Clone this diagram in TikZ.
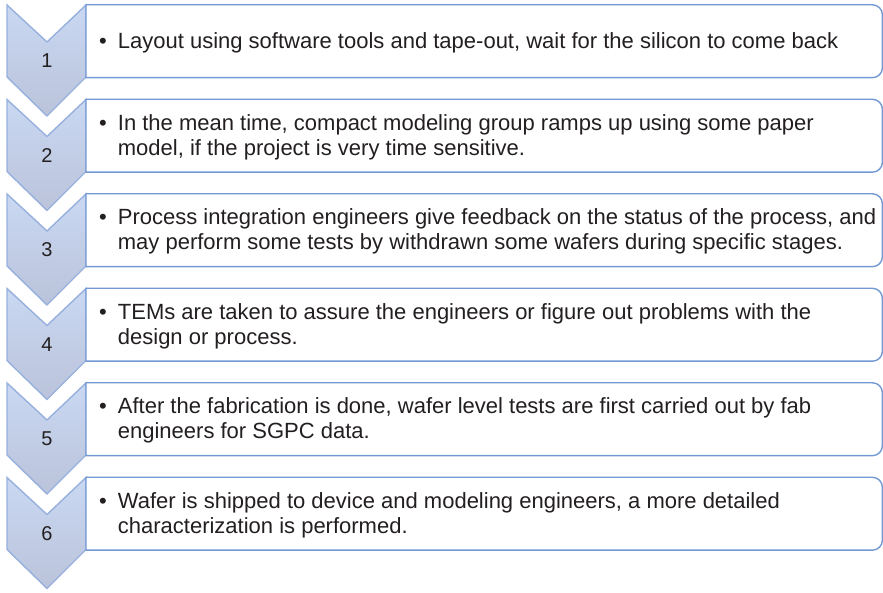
\documentclass[tikz,border=0pt]{standalone}
\usepackage{fontspec}
\setmainfont{Liberation Sans}
\definecolor{boxline}{HTML}{7399D4}
\definecolor{chevline}{HTML}{97B0DE}
\definecolor{chevtop}{HTML}{CAD8F2}
\definecolor{chevbot}{HTML}{BAC3DA}
\definecolor{ink}{HTML}{231F20}
\tikzset{
  x=1pt, y=1pt,
  stepbox/.style={minimum width=796pt, minimum height=72.5pt, inner sep=0pt, anchor=west},
  boxline/.style={draw=boxline, line width=1.4pt, fill=white},
  chevron/.style={draw=chevline, line width=1.4pt, top color=chevtop, bottom color=chevbot},
  stepnum/.style={font=\fontsize{20}{24}\selectfont, text=ink, inner sep=0pt},
  steptext/.style={font=\fontsize{22}{25}\selectfont, text=ink, inner sep=0pt, anchor=west, align=left},
}
% one step: chevron with number, rounded box with bulleted text
% #1 = index, #2 = top edge (y up), #3 = text rows
\newcommand{\stepitem}[3]{%
  \path[chevron] (7,#2) -- (47,#2-37) -- (86,#2) -- (86,#2-72) -- (47,#2-111) -- (7,#2-72) -- cycle;
  \node[stepnum] (n#1) at (47,#2-56) {#1};
  \node[stepbox] (b#1) at (86,#2-36.25) {};
  \draw[boxline] (b#1.south west) -- (b#1.north west) -- ([xshift=-10pt]b#1.north east)
    arc[start angle=90, end angle=0, radius=10pt] -- ([yshift=10pt]b#1.south east)
    arc[start angle=0, end angle=-90, radius=10pt] -- cycle;
  \node[steptext] (t#1) at ([xshift=13pt,yshift=-2pt]b#1.west)
    {\begin{tabular}{@{}l@{\hspace{11pt}}l@{}}#3\end{tabular}};
}
\begin{document}
\begin{tikzpicture}
\useasboundingbox (0,0) rectangle (883,593);
\stepitem{1}{588}{\textbullet & Layout using software tools and tape-out, wait for the silicon to come back}
\stepitem{2}{493.5}{\textbullet & In the mean time, compact modeling group ramps up using some paper\\ & model, if the project is very time sensitive.}
\stepitem{3}{399}{\textbullet & Process integration engineers give feedback on the status of the process, and\\ & may perform some tests by withdrawn some wafers during specific stages.}
\stepitem{4}{304.5}{\textbullet & TEMs are taken to assure the engineers or figure out problems with the\\ & design or process.}
\stepitem{5}{210}{\textbullet & After the fabrication is done, wafer level tests are first carried out by fab\\ & engineers for SGPC data.}
\stepitem{6}{115.5}{\textbullet & Wafer is shipped to device and modeling engineers, a more detailed\\ & characterization is performed.}
\end{tikzpicture}
\end{document}
